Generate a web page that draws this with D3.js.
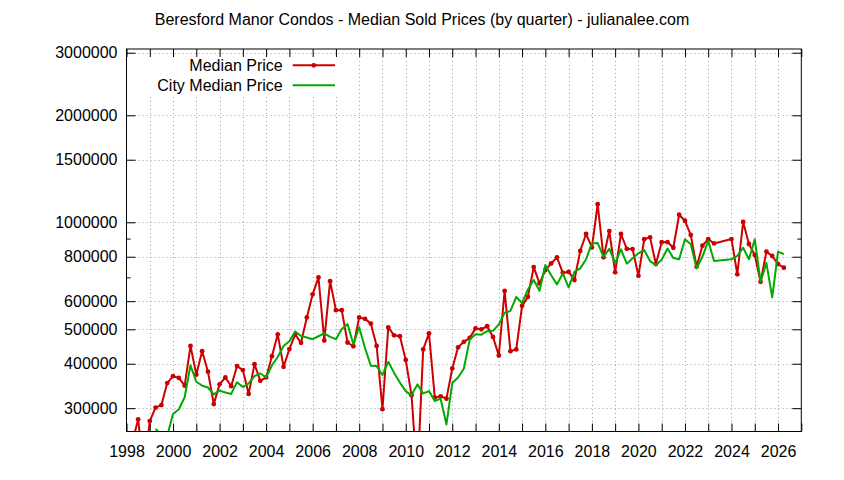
<!DOCTYPE html>
<html>
<head>
<meta charset="utf-8">
<script src="https://cdn.jsdelivr.net/npm/d3@7"></script>
<style>
  html, body { margin: 0; padding: 0; background: #fff; }
  svg { display: block; }
  text { font-family: "Liberation Sans", Arial, sans-serif; fill: #000; }
</style>
</head>
<body>
<svg id="chart" width="844" height="480"></svg>
<script>
// ---- data (quarterly, decimal year) ----
const medianQuarters = [
  1998.25,1998.5,1998.75,
  1999.0,1999.25,1999.5,1999.75,
  2000.0,2000.25,2000.5,2000.75,
  2001.0,2001.25,2001.5,2001.75,
  2002.0,2002.25,2002.5,2002.75,
  2003.0,2003.25,2003.5,2003.75,
  2004.0,2004.25,2004.5,2004.75,
  2005.0,2005.25,2005.5,2005.75,
  2006.0,2006.25,2006.5,2006.75,
  2007.0,2007.25,2007.5,2007.75,
  2008.0,2008.25,2008.5,2008.75,
  2009.0,2009.25,2009.5,2009.75,
  2010.0,2010.25,2010.5,2010.75,
  2011.0,2011.25,2011.5,2011.75,
  2012.0,2012.25,2012.5,2012.75,
  2013.0,2013.25,2013.5,2013.75,
  2014.0,2014.25,2014.5,2014.75,
  2015.0,2015.25,2015.5,2015.75,
  2016.0,2016.25,2016.5,2016.75,
  2017.0,2017.25,2017.5,2017.75,
  2018.0,2018.25,2018.5,2018.75,
  2019.0,2019.25,2019.5,2019.75,
  2020.0,2020.25,2020.5,2020.75,
  2021.0,2021.25,2021.5,2021.75,
  2022.0,2022.25,2022.5,2022.75,
  2023.0,2023.25,
  2024.0,2024.25,2024.5,2024.75,
  2025.0,2025.25,2025.5,2025.75,
  2026.0,2026.25
];
const medianPrice = [
  240000,279000,200000,
  276000,301000,306000,353000,
  369000,365000,347000,449000,
  373000,434000,380000,308000,
  350000,366000,346000,394000,
  384000,329000,399000,358000,
  366000,420000,484000,392000,
  440000,484000,458000,540000,
  627000,700000,465000,683000,
  566000,566000,459000,448000,
  540000,535000,519000,449000,
  298000,506000,481000,478000,
  410000,326000,190000,439000,
  487000,321000,324000,319000,
  388000,445000,461000,473000,
  503000,500000,510000,476000,
  422000,641000,434000,439000,
  582000,617000,748000,673000,
  734000,766000,797000,721000,
  725000,688000,831000,927000,
  850000,1124000,797000,945000,
  723000,927000,842000,841000,
  707000,896000,907000,763000,
  879000,880000,848000,1050000,
  1010000,921000,750000,859000,
  897000,872000,
  897000,714000,1002000,869000,
  809000,680000,827000,804000,
  763000,745000
];
const cityQuarters = [
  1999.25,1999.5,1999.75,
  2000.0,2000.25,2000.5,2000.75,
  2001.0,2001.25,2001.5,2001.75,
  2002.0,2002.25,2002.5,2002.75,
  2003.0,2003.25,2003.5,2003.75,
  2004.0,2004.25,2004.5,2004.75,
  2005.0,2005.25,2005.5,2005.75,
  2006.0,2006.25,2006.5,2006.75,
  2007.0,2007.25,2007.5,2007.75,
  2008.0,2008.25,2008.5,2008.75,
  2009.0,2009.25,2009.5,2009.75,
  2010.0,2010.25,2010.5,2010.75,
  2011.0,2011.25,2011.5,2011.75,
  2012.0,2012.25,2012.5,2012.75,
  2013.0,2013.25,2013.5,2013.75,
  2014.0,2014.25,2014.5,2014.75,
  2015.0,2015.25,2015.5,2015.75,
  2016.0,2016.25,2016.5,2016.75,
  2017.0,2017.25,2017.5,2017.75,
  2018.0,2018.25,2018.5,2018.75,
  2019.0,2019.25,2019.5,2019.75,
  2020.0,2020.25,2020.5,2020.75,
  2021.0,2021.25,2021.5,2021.75,
  2022.0,2022.25,2022.5,2022.75,
  2023.0,2023.25,
  2024.0,2024.25,2024.5,2024.75,
  2025.0,2025.25,2025.5,2025.75,
  2026.0,2026.25
];
const cityMedianPrice = [
  262000,253000,251000,
  289000,298000,322000,396000,
  356000,347000,343000,328000,
  336000,332000,329000,355000,
  344000,352000,369000,376000,
  366000,396000,418000,449000,
  463000,493000,479000,474000,
  469000,478000,487000,476000,
  469000,501000,517000,454000,
  507000,443000,395000,394000,
  372000,405000,377000,354000,
  335000,326000,350000,330000,
  335000,314000,319000,270000,
  353000,366000,388000,468000,
  484000,483000,494000,495000,
  516000,557000,563000,617000,
  593000,647000,688000,642000,
  758000,710000,669000,718000,
  656000,725000,742000,787000,
  872000,874000,800000,842000,
  769000,839000,765000,792000,
  818000,836000,778000,758000,
  785000,844000,794000,787000,
  896000,867000,742000,800000,
  887000,778000,
  787000,805000,848000,787000,
  896000,680000,769000,615000,
  827000,814000
];
const yTickValues = [300000,400000,500000,600000,800000,1000000,1500000,2000000,3000000];
const yMinorTickValues = [700000,900000];
const xTickYears = d3.range(1998, 2028);
const xLabelYears = d3.range(1998, 2027, 2);
const seriesNames = ["Median Price", "City Median Price"];
const titleText = "Beresford Manor Condos - Median Sold Prices (by quarter) - julianalee.com";

// ---- layout ----
const L = 126.5, R = 801.3, T = 49, B = 431.5;
const RED = "#cc0000", GREEN = "#00aa00";
const FS = "16px";
const svg = d3.select("#chart");

const x = d3.scaleLinear().domain([1998, 2027]).range([L, R]);
const y = d3.scaleLog().domain([257900, 3073000]).range([B, T]);

// title
svg.append("text").attr("x", 422).attr("y", 25)
  .attr("text-anchor", "middle").style("font-size", FS).text(titleText);

// grid
const grid = svg.append("g").attr("stroke", "#a0a0a0").attr("stroke-width", 1)
  .attr("stroke-dasharray", "1,3");
grid.selectAll("line.v").data(xTickYears.filter(d => d > 1998 && d < 2027)).join("line")
  .attr("x1", d => Math.round(x(d)) + 0.5).attr("x2", d => Math.round(x(d)) + 0.5)
  .attr("y1", T).attr("y2", B);
grid.selectAll("line.h").data(yTickValues).join("line")
  .attr("x1", L).attr("x2", R)
  .attr("y1", d => Math.round(y(d)) + 0.5).attr("y2", d => Math.round(y(d)) + 0.5);

// legend background (opaque key)
svg.append("rect").attr("x", L + 1).attr("y", 55).attr("width", 212).attr("height", 40)
  .attr("fill", "#fff");

// axes
const fmt = d => String(d);
const yAxisL = d3.axisLeft(y).tickValues(yTickValues).tickFormat(fmt).tickSize(-9).tickPadding(9);
const gY = svg.append("g").attr("transform", `translate(${L},0)`).call(yAxisL);
const yAxisR = d3.axisRight(y).tickValues(yTickValues).tickFormat("").tickSize(-9);
const gYR = svg.append("g").attr("transform", `translate(${R},0)`).call(yAxisR);
const yMinL = d3.axisLeft(y).tickValues(yMinorTickValues).tickFormat("").tickSize(-4);
const gYm = svg.append("g").attr("transform", `translate(${L},0)`).call(yMinL);
const yMinR = d3.axisRight(y).tickValues(yMinorTickValues).tickFormat("").tickSize(-4);
const gYmR = svg.append("g").attr("transform", `translate(${R},0)`).call(yMinR);

const xAxisB = d3.axisBottom(x).tickValues(xTickYears).tickFormat(d => xLabelYears.includes(d) ? String(d) : "")
  .tickSize(-8).tickPadding(14);
const gX = svg.append("g").attr("transform", `translate(0,${B})`).call(xAxisB);
const xAxisT = d3.axisTop(x).tickValues(xTickYears).tickFormat("").tickSize(-8);
const gXT = svg.append("g").attr("transform", `translate(0,${T})`).call(xAxisT);

[gY, gYR, gYm, gYmR, gX, gXT].forEach(g => {
  g.select(".domain").remove();
  g.selectAll("line").attr("stroke", "#000");
  g.selectAll("text").style("font-size", FS).attr("fill", "#000")
    .style("font-family", '"Liberation Sans", Arial, sans-serif');
});

// clip
svg.append("clipPath").attr("id", "plotclip").append("rect")
  .attr("x", L).attr("y", T).attr("width", R - L).attr("height", B - T);

const line = d3.line().x(d => x(d[0])).y(d => y(d[1]));
const redData = medianQuarters.map((q, i) => [q, medianPrice[i]]);
const greenData = cityQuarters.map((q, i) => [q, cityMedianPrice[i]]);

const plot = svg.append("g").attr("clip-path", "url(#plotclip)");
plot.append("path").datum(redData).attr("d", line)
  .attr("fill", "none").attr("stroke", RED).attr("stroke-width", 2).attr("stroke-linejoin", "round");
plot.selectAll("circle.red").data(redData).join("circle")
  .attr("cx", d => x(d[0])).attr("cy", d => y(d[1])).attr("r", 2.4).attr("fill", RED);
plot.append("path").datum(greenData).attr("d", line)
  .attr("fill", "none").attr("stroke", GREEN).attr("stroke-width", 2).attr("stroke-linejoin", "round");

// border
svg.append("rect").attr("x", L).attr("y", T).attr("width", R - L).attr("height", B - T)
  .attr("fill", "none").attr("stroke", "#000").attr("stroke-width", 1);

// legend
const legend = svg.append("g");
const legendRows = [
  { name: seriesNames[0], color: RED, marker: true, yy: 65.3 },
  { name: seriesNames[1], color: GREEN, marker: false, yy: 85.3 }
];
legendRows.forEach(r => {
  legend.append("text").attr("x", 282.7).attr("y", r.yy).attr("dy", "0.35em")
    .attr("text-anchor", "end").style("font-size", FS).text(r.name);
  legend.append("line").attr("x1", 292.7).attr("x2", 335).attr("y1", r.yy).attr("y2", r.yy)
    .attr("stroke", r.color).attr("stroke-width", 2);
  if (r.marker) legend.append("circle").attr("cx", 313.8).attr("cy", r.yy).attr("r", 2.4).attr("fill", r.color);
});
</script>
</body>
</html>
